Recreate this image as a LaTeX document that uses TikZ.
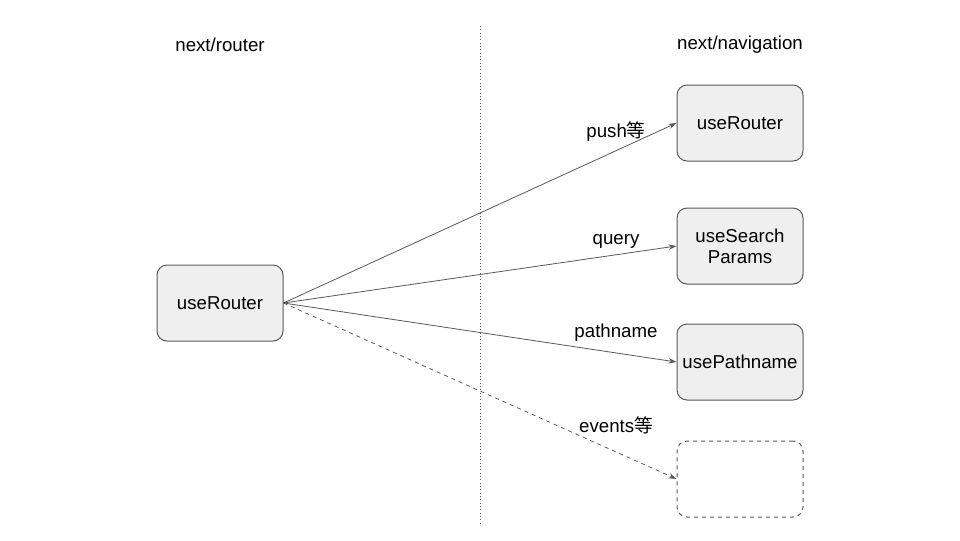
\documentclass[tikz,border=0pt]{standalone}
\usepackage{fontspec}
\setmainfont{Liberation Sans}
\newfontfamily\cjk{Noto Sans CJK SC}
\usetikzlibrary{arrows.meta}
\definecolor{edgegray}{HTML}{595959}
\definecolor{boxfill}{HTML}{EFEFEF}
\tikzset{
  hookbox/.style={draw=edgegray, line width=0.75pt, rounded corners=7.5pt,
    minimum width=94.5pt, minimum height=57pt, align=center, inner sep=2pt},
  link/.style={draw=edgegray, line width=0.6pt, -{Stealth[length=6pt,width=4pt]}}
}
\begin{document}
\begin{tikzpicture}[x=0.75pt, y=-0.75pt, font=\fontsize{14}{15.75}\selectfont]
  \useasboundingbox (0,0) rectangle (960,540);
  \fill[white] (0,0) rectangle (960,540);
  \draw
    (220,45) node (oldlib){next/router}
    (740,45) node (newlib){next/navigation}
    (220,303) node[hookbox, fill=boxfill] (router){useRouter}
    (740,123) node[hookbox, fill=boxfill] (navrouter){useRouter}
    (740,246) node[hookbox, fill=boxfill] (search){useSearch\\Params}
    (740,362) node[hookbox, fill=boxfill] (pathname){usePathname}
    (740,479) node[hookbox, dashed] (other){};
  \coordinate (top) at (480,26);
  \coordinate (bottom) at (480,524);
  \draw[edgegray, line width=0.5pt, dotted] (top) -- (bottom);
  \begin{scope}[link]
    \draw (router.east) to (navrouter.west);
    \draw (router.east) to (search.west);
    \draw (router.east) to (pathname.west);
    \draw[dashed] (router.east) to (other.west);
  \end{scope}
  \draw
    (616,132) node (pushlbl){push{\cjk 等}}
    (616,241) node (querylbl){query}
    (616,333) node (pathlbl){pathname}
    (616,425) node (eventslbl){events{\cjk 等}};
\end{tikzpicture}
\end{document}
